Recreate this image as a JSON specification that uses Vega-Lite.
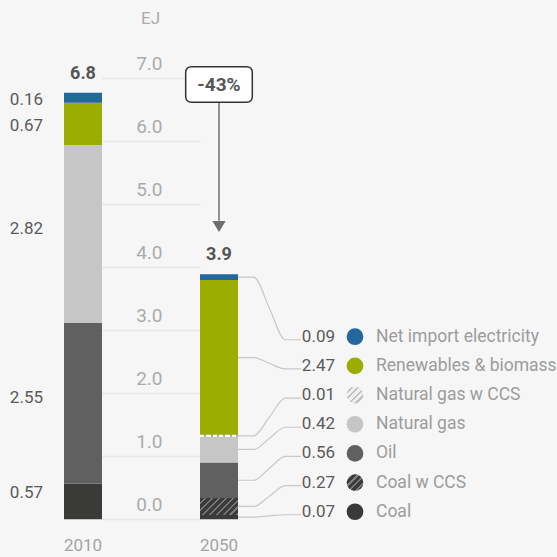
{
  "$schema": "https://vega.github.io/schema/vega-lite/v6.json",
  "width": 557,
  "height": 557,
  "autosize": "none",
  "padding": 0,
  "background": "#f6f6f6",
  "config": {
    "view": {"stroke": null},
    "font": "Roboto",
    "text": {"font": "Roboto"}
  },
  "data": {
    "values": [
      {"year": 2010, "fuel": "Coal", "value": 0.57},
      {"year": 2010, "fuel": "Oil", "value": 2.55},
      {"year": 2010, "fuel": "Natural gas", "value": 2.82},
      {"year": 2010, "fuel": "Renewables & biomass", "value": 0.67},
      {"year": 2010, "fuel": "Net import electricity", "value": 0.16},
      {"year": 2050, "fuel": "Coal", "value": 0.07},
      {"year": 2050, "fuel": "Coal w CCS", "value": 0.27},
      {"year": 2050, "fuel": "Oil", "value": 0.56},
      {"year": 2050, "fuel": "Natural gas", "value": 0.42},
      {"year": 2050, "fuel": "Natural gas w CCS", "value": 0.01},
      {"year": 2050, "fuel": "Renewables & biomass", "value": 2.47},
      {"year": 2050, "fuel": "Net import electricity", "value": 0.09}
    ]
  },
  "transform": [
    {"calculate": "indexof(['Coal','Coal w CCS','Oil','Natural gas','Natural gas w CCS','Renewables & biomass','Net import electricity'], datum.fuel)", "as": "ord"},
    {"stack": "value", "groupby": ["year"], "sort": [{"field": "ord"}], "as": ["y0", "y1"]},
    {"calculate": "(datum.y0 + datum.y1) / 2", "as": "mid"},
    {"calculate": "0.12 + 0.463 * datum.ord", "as": "rowLabel"}
  ],
  "resolve": {"scale": {"x": "independent"}},
  "layer": [
    {
      "mark": {"type": "bar", "width": 38},
      "encoding": {
        "x": {"field": "year", "type": "quantitative", "scale": {"domain": [2010, 2050], "range": [83, 219], "zero": false, "nice": false, "padding": 0}, "axis": null},
        "y": {
          "field": "y0", "type": "quantitative",
          "scale": {"domain": [0, 7], "range": [519.3, 78.3], "nice": false, "zero": false},
          "axis": {
            "orient": "left", "offset": -200, "domain": false, "grid": false,
            "ticks": true, "tickSize": 98, "tickColor": "#e6e6e6", "tickWidth": 1.5,
            "values": [0, 1, 2, 3, 4, 5, 6, 7], "format": ".1f",
            "labelPadding": -60, "labelAlign": "right", "labelBaseline": "alphabetic", "labelOffset": -9,
            "labelColor": "#ababab", "labelFontSize": 19, "labelFont": "Roboto", "labelFlush": false, "labelOverlap": false,
            "title": "EJ", "titleAngle": 0, "titleX": -50, "titleY": 18, "titleAlign": "center", "titleBaseline": "middle",
            "titleColor": "#ababab", "titleFontSize": 17, "titleFontWeight": "normal", "titleFont": "Roboto"
          }
        },
        "y2": {"field": "y1"},
        "color": {
          "field": "fuel", "type": "nominal", "legend": null,
          "scale": {
            "domain": ["Net import electricity", "Renewables & biomass", "Natural gas w CCS", "Natural gas", "Oil", "Coal w CCS", "Coal"],
            "range": ["#22679e", "#9bad00", "#e6e6e6", "#c6c6c6", "#606060", "#3b3b3b", "#3a3a39"]
          }
        }
      }
    },
    {
      "transform": [{"filter": "datum.fuel == 'Coal w CCS'"}],
      "mark": {
        "type": "bar", "width": 38,
        "fill": {
          "gradient": "linear", "x1": 0, "y1": 0, "x2": 1.206, "y2": 0.539,
          "stops": [
            {"offset": 0, "color": "#3b3b3b"}, {"offset": 0.0875, "color": "#3b3b3b"}, {"offset": 0.0875, "color": "#7a7a7a"}, {"offset": 0.125, "color": "#7a7a7a"},
            {"offset": 0.125, "color": "#3b3b3b"}, {"offset": 0.2125, "color": "#3b3b3b"}, {"offset": 0.2125, "color": "#7a7a7a"}, {"offset": 0.25, "color": "#7a7a7a"},
            {"offset": 0.25, "color": "#3b3b3b"}, {"offset": 0.3375, "color": "#3b3b3b"}, {"offset": 0.3375, "color": "#7a7a7a"}, {"offset": 0.375, "color": "#7a7a7a"},
            {"offset": 0.375, "color": "#3b3b3b"}, {"offset": 0.4625, "color": "#3b3b3b"}, {"offset": 0.4625, "color": "#7a7a7a"}, {"offset": 0.5, "color": "#7a7a7a"},
            {"offset": 0.5, "color": "#3b3b3b"}, {"offset": 0.5875, "color": "#3b3b3b"}, {"offset": 0.5875, "color": "#7a7a7a"}, {"offset": 0.625, "color": "#7a7a7a"},
            {"offset": 0.625, "color": "#3b3b3b"}, {"offset": 0.7125, "color": "#3b3b3b"}, {"offset": 0.7125, "color": "#7a7a7a"}, {"offset": 0.75, "color": "#7a7a7a"},
            {"offset": 0.75, "color": "#3b3b3b"}, {"offset": 0.8375, "color": "#3b3b3b"}, {"offset": 0.8375, "color": "#7a7a7a"}, {"offset": 0.875, "color": "#7a7a7a"},
            {"offset": 0.875, "color": "#3b3b3b"}, {"offset": 0.9625, "color": "#3b3b3b"}, {"offset": 0.9625, "color": "#7a7a7a"}, {"offset": 1, "color": "#7a7a7a"}
          ]
        }
      },
      "encoding": {
        "x": {"field": "year", "type": "quantitative", "scale": {"domain": [2010, 2050], "range": [83, 219], "zero": false, "nice": false, "padding": 0}, "axis": null},
        "y": {"field": "y0", "type": "quantitative"},
        "y2": {"field": "y1"}
      }
    },
    {
      "transform": [{"filter": "datum.fuel == 'Natural gas w CCS'"}],
      "mark": {
        "type": "tick", "orient": "horizontal", "size": 38, "thickness": 2, "opacity": 1,
        "fill": {
          "gradient": "linear", "x1": 0, "y1": 0, "x2": 1, "y2": 0,
          "stops": [
            {"offset": 0, "color": "#ffffff"}, {"offset": 0.1167, "color": "#ffffff"}, {"offset": 0.1167, "color": "#a8a8a8"}, {"offset": 0.1667, "color": "#a8a8a8"},
            {"offset": 0.1667, "color": "#ffffff"}, {"offset": 0.2833, "color": "#ffffff"}, {"offset": 0.2833, "color": "#a8a8a8"}, {"offset": 0.3333, "color": "#a8a8a8"},
            {"offset": 0.3333, "color": "#ffffff"}, {"offset": 0.45, "color": "#ffffff"}, {"offset": 0.45, "color": "#a8a8a8"}, {"offset": 0.5, "color": "#a8a8a8"},
            {"offset": 0.5, "color": "#ffffff"}, {"offset": 0.6167, "color": "#ffffff"}, {"offset": 0.6167, "color": "#a8a8a8"}, {"offset": 0.6667, "color": "#a8a8a8"},
            {"offset": 0.6667, "color": "#ffffff"}, {"offset": 0.7833, "color": "#ffffff"}, {"offset": 0.7833, "color": "#a8a8a8"}, {"offset": 0.8333, "color": "#a8a8a8"},
            {"offset": 0.8333, "color": "#ffffff"}, {"offset": 0.95, "color": "#ffffff"}, {"offset": 0.95, "color": "#a8a8a8"}, {"offset": 1, "color": "#a8a8a8"}
          ]
        }
      },
      "encoding": {
        "x": {"field": "year", "type": "quantitative", "scale": {"domain": [2010, 2050], "range": [83, 219], "zero": false, "nice": false, "padding": 0}, "axis": null},
        "y": {"field": "mid", "type": "quantitative"}
      }
    },
    {
      "transform": [{"aggregate": [{"op": "sum", "field": "value", "as": "total"}], "groupby": ["year"]}],
      "mark": {"type": "text", "fontWeight": "bold", "fontSize": 18, "color": "#555555", "baseline": "alphabetic", "dy": -14},
      "encoding": {
        "x": {"field": "year", "type": "quantitative", "scale": {"domain": [2010, 2050], "range": [83, 219], "zero": false, "nice": false, "padding": 0}, "axis": null},
        "y": {"field": "total", "type": "quantitative"},
        "text": {"field": "total", "type": "quantitative", "format": ".1f"}
      }
    },
    {
      "transform": [{"aggregate": [{"op": "count", "as": "n"}], "groupby": ["year"]}],
      "mark": {"type": "text", "fontSize": 17, "color": "#a3a3a3", "baseline": "alphabetic", "dy": 32},
      "encoding": {
        "x": {"field": "year", "type": "quantitative", "scale": {"domain": [2010, 2050], "range": [83, 219], "zero": false, "nice": false, "padding": 0}, "axis": null},
        "y": {"datum": 0, "type": "quantitative"},
        "text": {"field": "year", "type": "nominal"}
      }
    },
    {
      "transform": [{"filter": "datum.year == 2010 && datum.value > 1"}],
      "mark": {"type": "text", "fontSize": 17, "color": "#5a5a5a", "align": "right", "baseline": "alphabetic", "dx": -40, "dy": 0},
      "encoding": {
        "x": {"field": "year", "type": "quantitative", "scale": {"domain": [2010, 2050], "range": [83, 219], "zero": false, "nice": false, "padding": 0}, "axis": null},
        "y": {"field": "mid", "type": "quantitative"},
        "text": {"field": "value", "type": "quantitative", "format": ".2f"}
      }
    },
    {
      "transform": [{"filter": "datum.year == 2010 && datum.fuel == 'Coal'"}],
      "mark": {"type": "text", "fontSize": 17, "color": "#5a5a5a", "align": "right", "baseline": "alphabetic", "dx": -40, "dy": -3},
      "encoding": {
        "x": {"field": "year", "type": "quantitative", "scale": {"domain": [2010, 2050], "range": [83, 219], "zero": false, "nice": false, "padding": 0}, "axis": null},
        "y": {"field": "mid", "type": "quantitative"},
        "text": {"field": "value", "type": "quantitative", "format": ".2f"}
      }
    },
    {
      "transform": [{"filter": "datum.year == 2010 && datum.ord >= 5"}],
      "mark": {"type": "text", "fontSize": 17, "color": "#5a5a5a", "align": "right", "baseline": "middle", "dx": -40, "dy": 2},
      "encoding": {
        "x": {"field": "year", "type": "quantitative", "scale": {"domain": [2010, 2050], "range": [83, 219], "zero": false, "nice": false, "padding": 0}, "axis": null},
        "y": {"field": "mid", "type": "quantitative"},
        "text": {"field": "value", "type": "quantitative", "format": ".2f"}
      }
    },
    {
      "transform": [
        {"filter": "datum.year == 2050"},
        {"calculate": "datum.mid", "as": "a"},
        {"calculate": "datum.mid", "as": "b"},
        {"calculate": "(datum.mid + datum.rowLabel - 0.048) / 2", "as": "c"},
        {"calculate": "datum.rowLabel - 0.048", "as": "d"},
        {"calculate": "datum.rowLabel - 0.048", "as": "e"},
        {"fold": ["a", "b", "c", "d", "e"], "as": ["stage", "ly"]}
      ],
      "mark": {"type": "line", "interpolate": "monotone", "color": "#c8c8c8", "strokeWidth": 1.2},
      "encoding": {
        "x": {"field": "stage", "type": "ordinal", "scale": {"type": "point", "domain": ["a", "b", "c", "d", "e"], "range": [238, 301], "padding": 0}, "axis": null},
        "y": {"field": "ly", "type": "quantitative"},
        "detail": {"field": "fuel", "type": "nominal"}
      }
    },
    {
      "transform": [{"filter": "datum.year == 2050"}],
      "mark": {"type": "text", "fontSize": 17, "color": "#5a5a5a", "align": "right", "baseline": "middle", "dx": 116},
      "encoding": {
        "x": {"field": "year", "type": "quantitative", "scale": {"domain": [2010, 2050], "range": [83, 219], "zero": false, "nice": false, "padding": 0}, "axis": null},
        "y": {"field": "rowLabel", "type": "quantitative"},
        "text": {"field": "value", "type": "quantitative", "format": ".2f"}
      }
    },
    {
      "transform": [{"filter": "datum.year == 2050"}],
      "mark": {"type": "text", "fontSize": 17.5, "color": "#9c9c9c", "align": "left", "baseline": "middle", "dx": 157},
      "encoding": {
        "x": {"field": "year", "type": "quantitative", "scale": {"domain": [2010, 2050], "range": [83, 219], "zero": false, "nice": false, "padding": 0}, "axis": null},
        "y": {"field": "rowLabel", "type": "quantitative"},
        "text": {"field": "fuel", "type": "nominal"}
      }
    },
    {
      "transform": [{"filter": "datum.year == 2050 && datum.fuel != 'Coal w CCS' && datum.fuel != 'Natural gas w CCS'"}],
      "mark": {"type": "point", "shape": "circle", "filled": true, "opacity": 1, "size": 279, "xOffset": 136},
      "encoding": {
        "x": {"field": "year", "type": "quantitative", "scale": {"domain": [2010, 2050], "range": [83, 219], "zero": false, "nice": false, "padding": 0}, "axis": null},
        "y": {"field": "rowLabel", "type": "quantitative"},
        "color": {"field": "fuel", "type": "nominal", "legend": null}
      }
    },
    {
      "transform": [{"filter": "datum.year == 2050 && datum.fuel == 'Coal w CCS'"}],
      "mark": {
        "type": "point", "shape": "circle", "filled": true, "opacity": 1, "size": 279, "xOffset": 136,
        "fill": {
          "gradient": "linear", "x1": 0, "y1": 0, "x2": 1, "y2": 1,
          "stops": [
            {"offset": 0, "color": "#3b3b3b"}, {"offset": 0.13, "color": "#3b3b3b"}, {"offset": 0.13, "color": "#808080"}, {"offset": 0.2, "color": "#808080"},
            {"offset": 0.2, "color": "#3b3b3b"}, {"offset": 0.33, "color": "#3b3b3b"}, {"offset": 0.33, "color": "#808080"}, {"offset": 0.4, "color": "#808080"},
            {"offset": 0.4, "color": "#3b3b3b"}, {"offset": 0.53, "color": "#3b3b3b"}, {"offset": 0.53, "color": "#808080"}, {"offset": 0.6, "color": "#808080"},
            {"offset": 0.6, "color": "#3b3b3b"}, {"offset": 0.73, "color": "#3b3b3b"}, {"offset": 0.73, "color": "#808080"}, {"offset": 0.8, "color": "#808080"},
            {"offset": 0.8, "color": "#3b3b3b"}, {"offset": 1, "color": "#3b3b3b"}
          ]
        }
      },
      "encoding": {
        "x": {"field": "year", "type": "quantitative", "scale": {"domain": [2010, 2050], "range": [83, 219], "zero": false, "nice": false, "padding": 0}, "axis": null},
        "y": {"field": "rowLabel", "type": "quantitative"}
      }
    },
    {
      "transform": [{"filter": "datum.year == 2050 && datum.fuel == 'Natural gas w CCS'"}],
      "mark": {
        "type": "point", "shape": "circle", "filled": true, "opacity": 1, "size": 279, "xOffset": 136,
        "fill": {
          "gradient": "linear", "x1": 0, "y1": 0, "x2": 1, "y2": 1,
          "stops": [
            {"offset": 0, "color": "#eeeeee"}, {"offset": 0.13, "color": "#eeeeee"}, {"offset": 0.13, "color": "#bdbdbd"}, {"offset": 0.2, "color": "#bdbdbd"},
            {"offset": 0.2, "color": "#eeeeee"}, {"offset": 0.33, "color": "#eeeeee"}, {"offset": 0.33, "color": "#bdbdbd"}, {"offset": 0.4, "color": "#bdbdbd"},
            {"offset": 0.4, "color": "#eeeeee"}, {"offset": 0.53, "color": "#eeeeee"}, {"offset": 0.53, "color": "#bdbdbd"}, {"offset": 0.6, "color": "#bdbdbd"},
            {"offset": 0.6, "color": "#eeeeee"}, {"offset": 0.73, "color": "#eeeeee"}, {"offset": 0.73, "color": "#bdbdbd"}, {"offset": 0.8, "color": "#bdbdbd"},
            {"offset": 0.8, "color": "#eeeeee"}, {"offset": 1, "color": "#eeeeee"}
          ]
        }
      },
      "encoding": {
        "x": {"field": "year", "type": "quantitative", "scale": {"domain": [2010, 2050], "range": [83, 219], "zero": false, "nice": false, "padding": 0}, "axis": null},
        "y": {"field": "rowLabel", "type": "quantitative"}
      }
    },
    {
      "transform": [{"aggregate": [{"op": "count", "as": "n"}]}],
      "mark": {"type": "rule", "color": "#6e6e6e", "strokeWidth": 1.5},
      "encoding": {
        "x": {"datum": 2050, "type": "quantitative", "scale": {"domain": [2010, 2050], "range": [83, 219], "zero": false, "nice": false, "padding": 0}, "axis": null},
        "y": {"datum": 6.9, "type": "quantitative"},
        "y2": {"datum": 4.74}
      }
    },
    {
      "transform": [{"aggregate": [{"op": "count", "as": "n"}]}],
      "mark": {"type": "point", "shape": "M-1,-0.83L1,-0.83L0,0.83Z", "filled": true, "opacity": 1, "color": "#6e6e6e", "size": 177},
      "encoding": {
        "x": {"datum": 2050, "type": "quantitative", "scale": {"domain": [2010, 2050], "range": [83, 219], "zero": false, "nice": false, "padding": 0}, "axis": null},
        "y": {"datum": 4.646, "type": "quantitative"}
      }
    },
    {
      "transform": [{"aggregate": [{"op": "count", "as": "n"}]}],
      "mark": {
        "type": "point",
        "shape": "M-0.82,-0.535L0.82,-0.535Q1,-0.535 1,-0.355L1,0.355Q1,0.535 0.82,0.535L-0.82,0.535Q-1,0.535 -1,0.355L-1,-0.355Q-1,-0.535 -0.82,-0.535Z",
        "filled": true, "opacity": 1, "fill": "#ffffff", "stroke": "#333333", "strokeWidth": 1.5, "size": 4436
      },
      "encoding": {
        "x": {"datum": 2050, "type": "quantitative", "scale": {"domain": [2010, 2050], "range": [83, 219], "zero": false, "nice": false, "padding": 0}, "axis": null},
        "y": {"datum": 6.902, "type": "quantitative"}
      }
    },
    {
      "transform": [{"aggregate": [{"op": "count", "as": "n"}]}],
      "mark": {"type": "text", "text": "-43%", "fontWeight": "bold", "fontSize": 19, "color": "#555555", "baseline": "middle", "dy": 1},
      "encoding": {
        "x": {"datum": 2050, "type": "quantitative", "scale": {"domain": [2010, 2050], "range": [83, 219], "zero": false, "nice": false, "padding": 0}, "axis": null},
        "y": {"datum": 6.902, "type": "quantitative"}
      }
    }
  ]
}
